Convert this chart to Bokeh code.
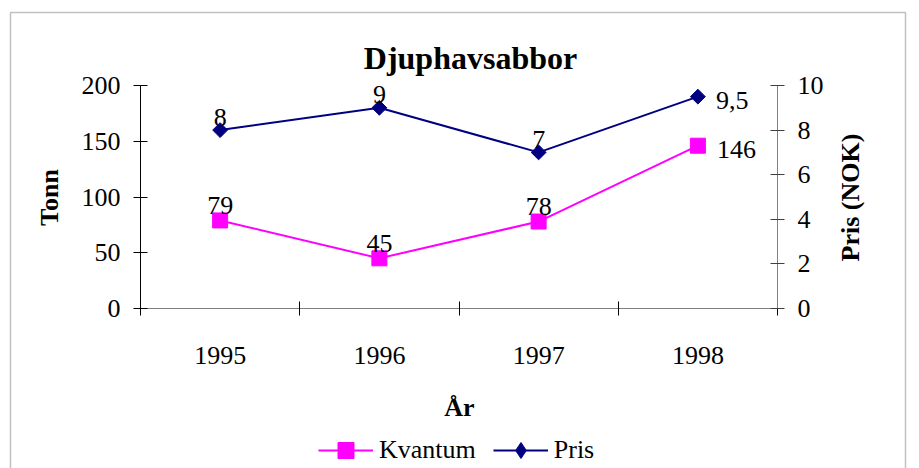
import math
from bokeh.plotting import figure
from bokeh.models import (Range1d, LinearAxis, FixedTicker, SingleIntervalTicker,
                          Label, Legend, LegendItem, BoxAnnotation)
from bokeh.core.properties import value
from bokeh.embed import file_html
from bokeh.resources import INLINE

# ---- data ----
years = ["1995", "1996", "1997", "1998"]
kvantum = [79, 45, 78, 146]          # Tonn
pris = [8, 9, 7, 9.5]                # NOK
kvantum_axis = (0, 200, 50)          # left axis: start, end, step
pris_axis = (0, 10, 2)               # right axis: start, end, step
title_text = "Djuphavsabbor"
y_left_label = "Tonn"
y_right_label = "Pris (NOK)"
x_label = "År"
series_names = ["Kvantum", "Pris"]


def fmt(v):
    return ("%g" % v).replace(".", ",")


FONT = "Liberation Serif"
MAGENTA = "#FF00FF"
NAVY = "#000080"

# canvas and plot-area geometry (pixels inside the canvas)
W, H = 919, 468
FL, FR, FT, FB = 140, 777, 85, 308
n = len(years)
KX = (FR - FL) / n                          # px per category
KY = (FB - FT) / (kvantum_axis[1] - kvantum_axis[0])
RATIO = (pris_axis[1] - pris_axis[0]) / (kvantum_axis[1] - kvantum_axis[0])


def dx(px):
    return (px - FL) / KX


def dy(py):
    return kvantum_axis[0] + (FB - py) / KY


xs = [i + 0.5 for i in range(n)]

p = figure(width=W, height=H, output_backend="svg", toolbar_location=None,
           x_range=Range1d(dx(0), dx(W)), y_range=Range1d(dy(H), dy(0)),
           min_border=0, x_axis_location=None, y_axis_location=None)
p.extra_y_ranges = {"pris": Range1d(dy(H) * RATIO, dy(0) * RATIO)}
p.grid.visible = False
p.outline_line_color = None
p.background_fill_color = "white"
p.border_fill_color = "white"

# ---- axes ----
left = LinearAxis(ticker=SingleIntervalTicker(interval=kvantum_axis[2]),
                  fixed_location=0, bounds=(kvantum_axis[0], kvantum_axis[1]))
right = LinearAxis(y_range_name="pris", ticker=SingleIntervalTicker(interval=pris_axis[2]),
                   fixed_location=n, bounds=(pris_axis[0], pris_axis[1]))
below = LinearAxis(ticker=FixedTicker(ticks=xs, minor_ticks=list(range(n + 1))),
                   major_label_overrides={x: y for x, y in zip(xs, years)},
                   fixed_location=kvantum_axis[0], bounds=(0, n))
for ax in (left, right, below):
    ax.major_label_text_font = FONT
    ax.major_label_text_font_size = "26px"
    ax.major_label_text_color = "black"
    ax.major_tick_line_color = "black"
    ax.minor_tick_line_color = None
for ax in (left, right):
    ax.major_tick_in = 7
    ax.major_tick_out = 7
    ax.major_label_standoff = 13
left.axis_line_color = "black"
right.axis_line_color = "#808080"
right.major_tick_line_color = "#404040"
below.axis_line_color = "#808080"
below.major_tick_line_color = None
below.major_tick_in = 0
below.major_tick_out = 0
below.minor_tick_line_color = "black"
below.minor_tick_in = 7
below.minor_tick_out = 7
below.major_label_standoff = 31
p.add_layout(left, "left")
p.add_layout(right, "right")
p.add_layout(below, "below")

# ---- series ----
lk = p.line(xs, kvantum, line_color=MAGENTA, line_width=2)
mk = p.scatter(xs, kvantum, marker="square", size=15, fill_color=MAGENTA, line_color=MAGENTA)
lp = p.line(xs, pris, line_color=NAVY, line_width=2, y_range_name="pris")
mp = p.scatter(xs, pris, marker="square", size=10.5, angle=math.pi / 4,
               fill_color=NAVY, line_color=NAVY, y_range_name="pris")
# legend swatch for the diamond marker (a placeholder that is never drawn in the plot)
nan = float("nan")
mp_key = p.scatter([nan], [nan], marker="diamond", size=17, fill_color=NAVY,
                   line_color=NAVY, y_range_name="pris")

# ---- data labels ----
lab = dict(text_font=value(FONT), text_font_size="26px", text_color="black",
           text_baseline="middle")
p.text(xs[:n - 1], kvantum[:n - 1], text=[fmt(v) for v in kvantum[:n - 1]],
       text_align="center", y_offset=-15, **lab)
p.text(xs[n - 1:], kvantum[n - 1:], text=[fmt(v) for v in kvantum[n - 1:]],
       text_align="left", x_offset=19, y_offset=4, **lab)
p.text(xs[:n - 1], pris[:n - 1], text=[fmt(v) for v in pris[:n - 1]],
       text_align="center", y_offset=-13, y_range_name="pris", **lab)
p.text(xs[n - 1:], pris[n - 1:], text=[fmt(v) for v in pris[n - 1:]],
       text_align="left", x_offset=18, y_offset=4, y_range_name="pris", **lab)

# ---- titles ----
txt = dict(text_font=FONT, text_font_style="bold", text_color="black",
           text_align="center", text_baseline="middle")
p.add_layout(Label(x=dx(470), y=dy(57), text=title_text, text_font_size="32px", **txt))
p.add_layout(Label(x=dx(49), y=dy(197), text=y_left_label, text_font_size="26px",
                   angle=math.pi / 2, **txt))
p.add_layout(Label(x=dx(850), y=dy(197), text=y_right_label, text_font_size="26px",
                   angle=math.pi / 2, **txt))
p.add_layout(Label(x=dx(459), y=dy(407), text=x_label, text_font_size="26px", **txt))

# ---- legend ----
legend = Legend(items=[LegendItem(label=series_names[0], renderers=[lk, mk]),
                       LegendItem(label=series_names[1], renderers=[lp, mp_key])],
                orientation="horizontal", location=(318, -2),
                glyph_width=55, glyph_height=40, label_height=40,
                label_standoff=6, spacing=17, padding=0, margin=0,
                border_line_color=None, background_fill_alpha=0,
                label_text_font=FONT, label_text_font_size="26px",
                label_text_color="black")
p.add_layout(legend)

# ---- outer chart border ----
p.add_layout(BoxAnnotation(left=dx(10), right=dx(905), top=dy(12), bottom=dy(H + 30),
                           fill_alpha=0, line_color="#333333", line_width=1.5))

open("out.html", "w").write(file_html(p, INLINE))
